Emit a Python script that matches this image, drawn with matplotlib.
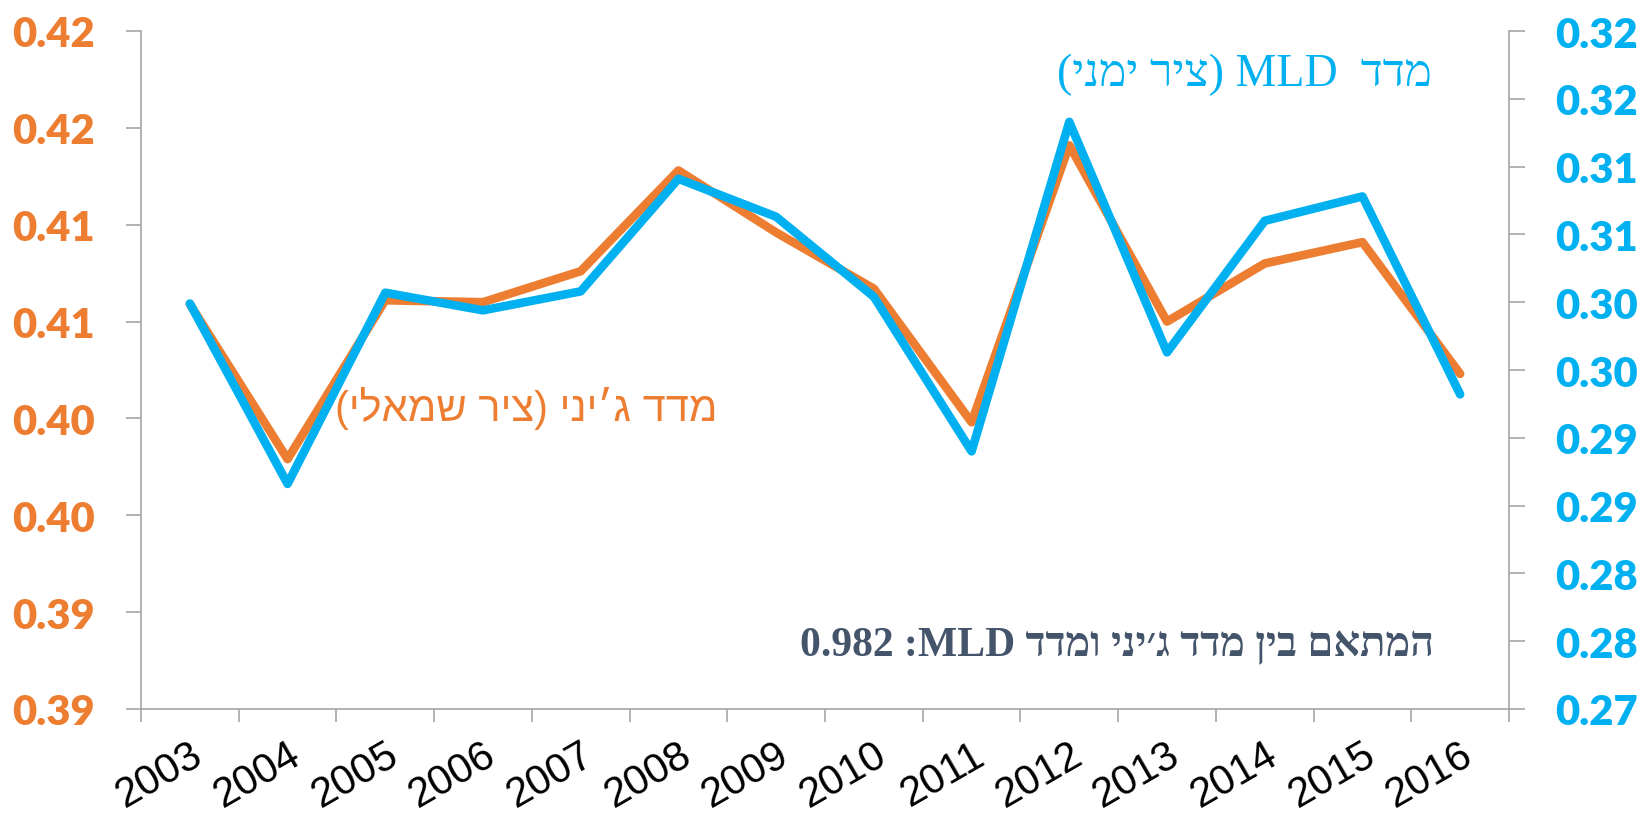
import re
import numpy as np
import matplotlib
matplotlib.use("Agg")
import matplotlib.pyplot as plt

years = ['2003', '2004', '2005', '2006', '2007', '2008', '2009',
         '2010', '2011', '2012', '2013', '2014', '2015', '2016']
gini = [0.4059, 0.3979, 0.4061, 0.4060, 0.4076, 0.4128, 0.4096,
        0.4067, 0.3998, 0.4141, 0.4050, 0.4080, 0.4091, 0.4023]
mld = [0.2999, 0.2866, 0.3007, 0.2994, 0.3008, 0.3091, 0.3063,
       0.3004, 0.2890, 0.3133, 0.2963, 0.3060, 0.3078, 0.2932]

left_ticks = [0.385, 0.39, 0.395, 0.40, 0.405, 0.41, 0.415, 0.42]
left_labels = ['0.39', '0.39', '0.40', '0.40', '0.41', '0.41', '0.42', '0.42']
right_ticks = [0.27, 0.275, 0.28, 0.285, 0.29, 0.295, 0.30, 0.305, 0.31, 0.315, 0.32]
right_labels = ['0.27', '0.28', '0.28', '0.29', '0.29', '0.30', '0.30',
                '0.31', '0.31', '0.32', '0.32']

gini_label = "מדד ג׳יני (ציר שמאלי)"
mld_label = "מדד  MLD (ציר ימני)"
corr_label = "המתאם בין מדד ג׳יני ומדד MLD: 0.982"

ORANGE = '#ED7D31'
BLUE = '#00B0F0'
GRAY = '#A6A6A6'


def visual(s):
    # matplotlib has no bidi support: lay Hebrew out right-to-left by hand
    r = s[::-1]
    r = re.sub(r'[A-Za-z0-9.]+', lambda m: m.group(0)[::-1], r)
    return r.translate(str.maketrans('()', ')('))


fig = plt.figure(figsize=(16.44, 8.2), dpi=100)
fig.subplots_adjust(left=141 / 1644, right=1509 / 1644, top=1 - 32 / 820, bottom=1 - 710 / 820)
ax = fig.add_subplot(111)
ax2 = ax.twinx()

x = np.arange(len(years))
ax.plot(x, gini, color=ORANGE, lw=6.2, solid_joinstyle='round', solid_capstyle='round', zorder=3)
ax2.plot(x, mld, color=BLUE, lw=6.2, solid_joinstyle='round', solid_capstyle='round', zorder=3)

ax.set_xlim(-0.5, len(years) - 0.5)
ax.set_ylim(0.385, 0.42)
ax2.set_ylim(0.27, 0.32)

for a in (ax, ax2):
    a.spines['top'].set_visible(False)
    for s in a.spines.values():
        s.set_color(GRAY)
        s.set_linewidth(1.2)
ax.spines['right'].set_visible(False)
ax2.spines['left'].set_visible(False)
ax2.spines['bottom'].set_visible(False)

ax.set_xticks(x)
ax.set_xticklabels(years, rotation=30, ha='right', va='top', rotation_mode='anchor',
                   fontsize=30, family='Liberation Sans', color='black')
ax.set_xticks(np.arange(-0.5, len(years), 1), minor=True)
ax.tick_params(axis='x', which='major', length=0, pad=18)
ax.tick_params(axis='x', which='minor', length=9.5, width=1.2, color=GRAY)

ax.set_yticks(left_ticks)
ax.set_yticklabels(left_labels, fontsize=30, fontweight='heavy', family='Lato', color=ORANGE)
ax.tick_params(axis='y', length=10.5, width=1.2, color=GRAY, pad=23)

ax2.set_yticks(right_ticks)
ax2.set_yticklabels(right_labels, fontsize=30, fontweight='heavy', family='Lato', color=BLUE)
ax2.tick_params(axis='y', length=11.5, width=1.2, color=GRAY, pad=22)

fig.text(717 / 1644, 1 - 408 / 820, visual(gini_label), color=ORANGE, fontsize=30,
         family=['Liberation Sans', 'DejaVu Sans'], ha='right', va='center')
fig.text(1432 / 1644, 1 - 75 / 820, visual(mld_label), color=BLUE, fontsize=33,
         family=['Liberation Serif', 'DejaVu Serif'], ha='right', va='center')
fig.text(1434 / 1644, 1 - 645 / 820, visual(corr_label), color='#44546A', fontsize=30,
         fontweight='bold', family=['Liberation Serif', 'DejaVu Serif'], ha='right', va='center')

fig.savefig('out.png', dpi=100)
